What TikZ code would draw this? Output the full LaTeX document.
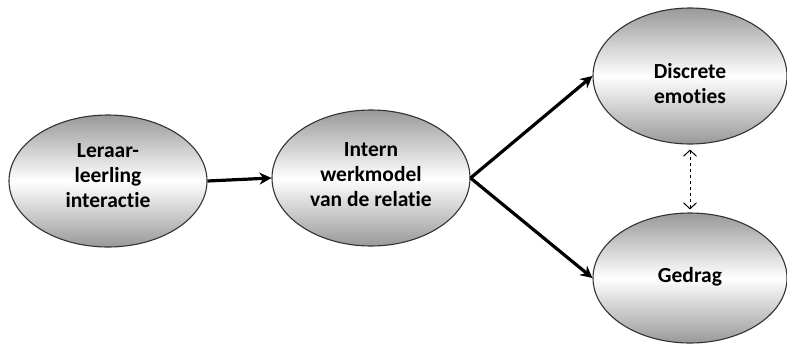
\documentclass[tikz,border=0pt]{standalone}
\usepackage{fontspec}
\setmainfont[Ligatures=NoCommon]{Carlito}
\usetikzlibrary{shapes.geometric,arrows.meta}
\begin{document}
\begin{tikzpicture}[x=1pt,y=-1pt,
  oval/.style={ellipse, draw=black!80, line width=1.1pt, top color=gray!80, bottom color=gray!80, middle color=white,
    inner sep=0pt},
  txt/.style={align=center, font=\fontsize{21.5}{25}\selectfont\bfseries, inner sep=0pt},
  mainarrow/.style={line width=3.2pt, -{Stealth[length=12pt,width=12pt]}},
  dasharrow/.style={line width=1pt, dashed, {Straight Barb[length=6pt,width=13pt]}-{Straight Barb[length=6pt,width=13pt]}}]
\useasboundingbox (0,0) rectangle (787,346);
\node[oval, minimum width=198pt, minimum height=132pt] (a) at (108,181) {};
\node[txt] (at) at (108,176) {Leraar-\\leerling\\interactie};
\node[oval, minimum width=198pt, minimum height=136pt] (b) at (371,178) {};
\node[txt] (bt) at (371,175) {Intern\\werkmodel\\van de relatie};
\node[oval, minimum width=194pt, minimum height=136pt] (c) at (690,76) {};
\node[txt] (ct) at (690,84) {Discrete\\emoties};
\node[oval, minimum width=194pt, minimum height=130pt] (d) at (690,278) {};
\node[txt] (dt) at (690,277) {Gedrag};
\draw[mainarrow] (a.east) -- (b.west);
\draw[mainarrow] (b.east) -- (c.west);
\draw[mainarrow] (b.east) -- (d.west);
\draw[dasharrow, shorten <=5pt, shorten >=3pt] (c.south) -- (d.north);
\end{tikzpicture}
\end{document}
